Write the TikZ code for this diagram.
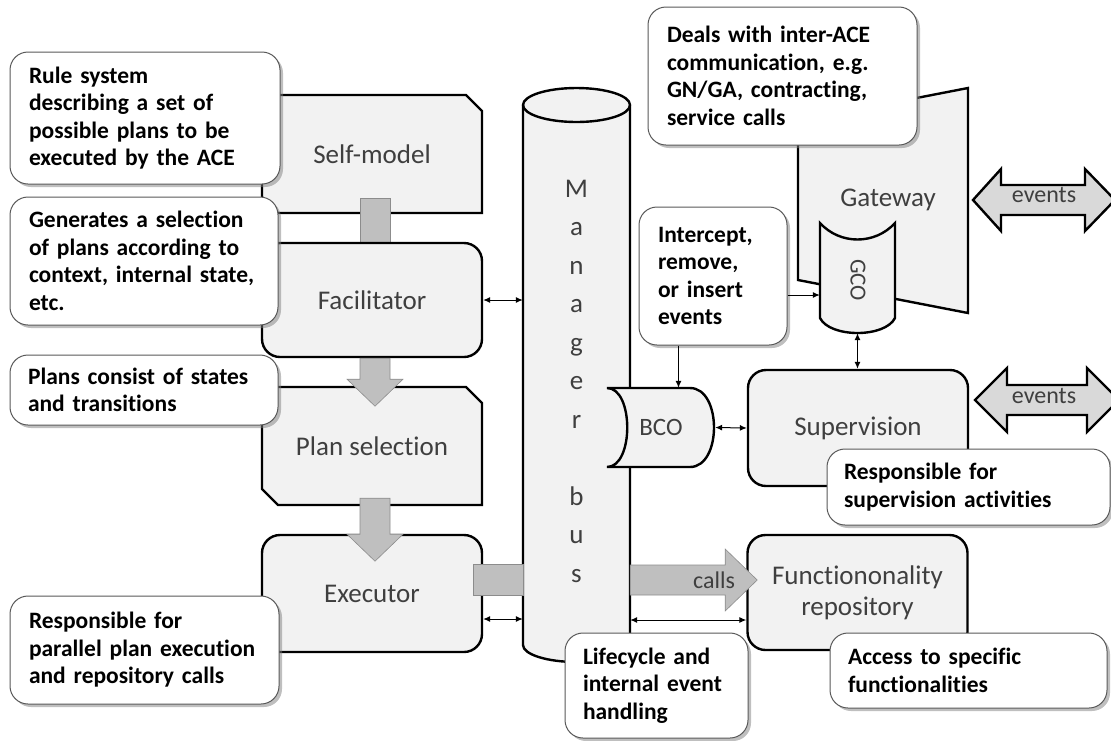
\documentclass[tikz,border=0pt]{standalone}
\usepackage{fontspec}
\setmainfont{Carlito}[Ligatures=NoCommon]
\usepackage{tikz}
\usetikzlibrary{positioning,arrows.meta,shapes.misc,shadows}

\definecolor{boxfill}{HTML}{F2F2F2}
\definecolor{labelgray}{HTML}{3F3F3F}
\definecolor{notegray}{HTML}{595959}
\definecolor{blockfill}{HTML}{BFBFBF}
\definecolor{blockedge}{HTML}{8C8C8C}
\definecolor{evfill}{HTML}{D9D9D9}
\newcommand\notefont{\bfseries\fontsize{23.5}{27.5}\selectfont\hyphenpenalty=10000\relax}

\begin{document}
\begin{tikzpicture}[x=1pt,y=-1pt,
  >={Latex[length=7pt,width=6pt]},
  lbl/.style={text=labelgray, font=\fontsize{27}{31}\selectfont},
  box/.style={lbl, draw, line width=2.4pt, fill=boxfill, minimum width=220pt, align=center},
  roundbox/.style={box, rounded corners=18pt},
  snipbox/.style={box, chamfered rectangle, chamfered rectangle corners={north east,south west},
    chamfered rectangle xsep=21pt},
  thick line/.style={line width=2.4pt, fill=boxfill},
  note/.style={draw=notegray, line width=1pt, fill=white, rounded corners=18pt,
    drop shadow={shadow xshift=3pt, shadow yshift=-3pt, fill=black!50, opacity=0.5},
    font=\notefont, align=left, inner xsep=19pt},
  blockarrow/.style={draw=blockedge, fill=blockfill, line width=0.6pt},
  evarrow/.style={draw, line width=2.4pt, fill=evfill, line join=miter},
  link/.style={line width=1pt}]
  \useasboundingbox (0,0) rectangle (1111,740);

  % left column
  \node[snipbox, minimum height=118pt] (sm) at (372,154) {Self-model};
  \fill[blockarrow] ([xshift=-12pt,yshift=16pt]sm.south) rectangle ([xshift=18pt,yshift=-57pt]sm.south);
  \node[roundbox, minimum height=114pt] (fac) at (372,300) {Facilitator};
  \node[snipbox, minimum height=118pt] (plan) at (372,446) {Plan selection};
  \node[roundbox, minimum height=117pt] (exe) at (372,593.5) {Executor};
  \draw[blockarrow] ([xshift=-12pt]fac.south) -- ++(0,21) -- ++(-13,0) -- ++(28,27)
    -- ++(28,-27) -- ++(-13,0) -- ++(0,-21) -- cycle;
  \draw[blockarrow] ([xshift=-12pt,yshift=8pt]plan.south) -- ++(0,36) -- ++(-13,0) -- ++(28,27)
    -- ++(28,-27) -- ++(-13,0) -- ++(0,-36) -- cycle;

  % manager bus
  \node[minimum width=107pt, minimum height=557pt, inner sep=0pt] (bus) at (576.5,375) {};
  \draw[thick line] (523,105) -- (523,645) arc[start angle=180, end angle=360, x radius=53.5pt, y radius=17pt]
    -- (630,105) arc[start angle=0, end angle=180, x radius=53.5pt, y radius=17pt] -- cycle;
  \draw[line width=2.4pt] (523,105) arc[start angle=180, end angle=360, x radius=53.5pt, y radius=17pt];
  \node[lbl, font=\fontsize{27}{38.5}\selectfont, align=center] (bustext) at (576.5,381)
    {M\\a\\n\\a\\g\\e\\r\\[38.5pt]b\\u\\s};
  \draw[blockarrow] ([xshift=-10pt,yshift=29.5pt]exe.east) rectangle ([yshift=-1.5pt]exe.east -| bus.west);

  % gateway and GCO
  \draw[thick line] (798,121) -- (968,88) -- (968,313) -- (798,280) -- cycle;
  \node[lbl] (gw) at (888,200) {Gateway};
  \draw[thick line] (820,223) .. controls (840,245) and (875,245) .. (895,223) -- (895,318)
    .. controls (885,338) and (830,338) .. (820,318) -- cycle;
  \node[minimum width=75pt, minimum height=110pt, inner sep=0pt] (gco) at (857.5,278) {};
  \node[lbl, font=\fontsize{23}{26}\selectfont, rotate=-90] at (858,280) {GCO};

  % BCO and right boxes
  \draw[thick line] (607,388) -- (690,388) .. controls (722,388) and (722,467) .. (690,467)
    -- (607,467) .. controls (634,467) and (634,388) .. cycle;
  \node[lbl, font=\fontsize{25}{28}\selectfont, minimum width=108pt, minimum height=79pt, inner sep=0pt] (bco) at (661,427.5) {BCO};
  \node[roundbox, minimum height=116pt] (sup) at (858,428) {Supervision};
  \node[roundbox, minimum height=115pt] (func) at (857.5,592.5) {Functiononality\\repository};
  \draw[blockarrow] ([yshift=12.5pt]func.west -| bus.east) -- ++(0,-15) -- ++(95,0) -- ++(0,-16)
    -- ++(32,31) -- ++(-32,31) -- ++(0,-16) -- ++(-95,0) -- cycle;
  \node[lbl, font=\fontsize{24}{28}\selectfont] (calls) at (714,580) {calls};

  % events
  \draw[evarrow] (973,200) -- ++(28,-31) -- ++(0,16) -- ++(84,0) -- ++(0,-16) -- ++(30,31)
    -- ++(-30,31) -- ++(0,-16) -- ++(-84,0) -- ++(0,16) -- cycle;
  \node[lbl, font=\fontsize{24}{28}\selectfont] (ev1) at (1044,195) {events};
  \draw[evarrow] (975,400) -- ++(32,-32) -- ++(0,17) -- ++(80,0) -- ++(0,-17) -- ++(32,32)
    -- ++(-32,32) -- ++(0,-17) -- ++(-80,0) -- ++(0,17) -- cycle;
  \node[lbl, font=\fontsize{24}{28}\selectfont] (ev2) at (1044,396) {events};

  % callouts
  \node[note, text width=232pt, minimum height=132pt] (rule) at (145,118)
    {Rule system\\describing a set of\\possible plans to be\\executed by the ACE};
  \node[note, text width=230pt, minimum height=128pt] (gen) at (144,261)
    {Generates a selection\\of plans according to\\context, internal state,\\etc.};
  \node[note, text width=232pt, minimum height=70pt, inner xsep=18pt] (states) at (144,390)
    {Plans consist of states\\and transitions};
  \node[note, text width=231pt, minimum height=108pt] (par) at (144.5,650)
    {Responsible for\\parallel plan execution\\and repository calls};
  \node[note, text width=231pt, minimum height=138pt] (deals) at (782.5,76)
    {Deals with inter-ACE\\communication, e.g.\\GN/GA, contracting,\\service calls};
  \node[note, text width=110pt, minimum height=138pt] (int) at (713,276)
    {Intercept,\\remove,\\or insert\\events};
  \node[note, text width=249pt, minimum height=76pt, inner xsep=17pt] (supnote) at (968.5,487)
    {Responsible for\\supervision activities};
  \node[note, text width=147pt, minimum height=105pt, inner xsep=18pt] (life) at (656.5,685.5)
    {Lifecycle and\\internal event\\handling};
  \node[note, text width=241pt, minimum height=75pt, inner xsep=18pt] (acc) at (968.5,670.5)
    {Access to specific\\functionalities};

  % thin connectors
  \draw[link,<->] (fac.east) -- (fac.east -| bus.west);
  \draw[link,<->] ([yshift=-25.5pt]exe.east) -- ([yshift=-25.5pt]exe.east -| bus.west);
  \draw[link,<->] ([yshift=-27.5pt]func.west -| bus.east) -- ([yshift=-27.5pt]func.west);
  \draw[link,<->] (bco.east) -- (sup.west);
  \draw[link,<->] (gco.south) -- (gco.south |- sup.north);
  \draw[link,->] ([xshift=40pt]int.south west) -- ([xshift=40pt]int.south west |- bco.north);
  \draw[link,->] ([yshift=-19pt]int.east) -- ([yshift=-19pt]int.east -| gco.west);
\end{tikzpicture}
\end{document}
